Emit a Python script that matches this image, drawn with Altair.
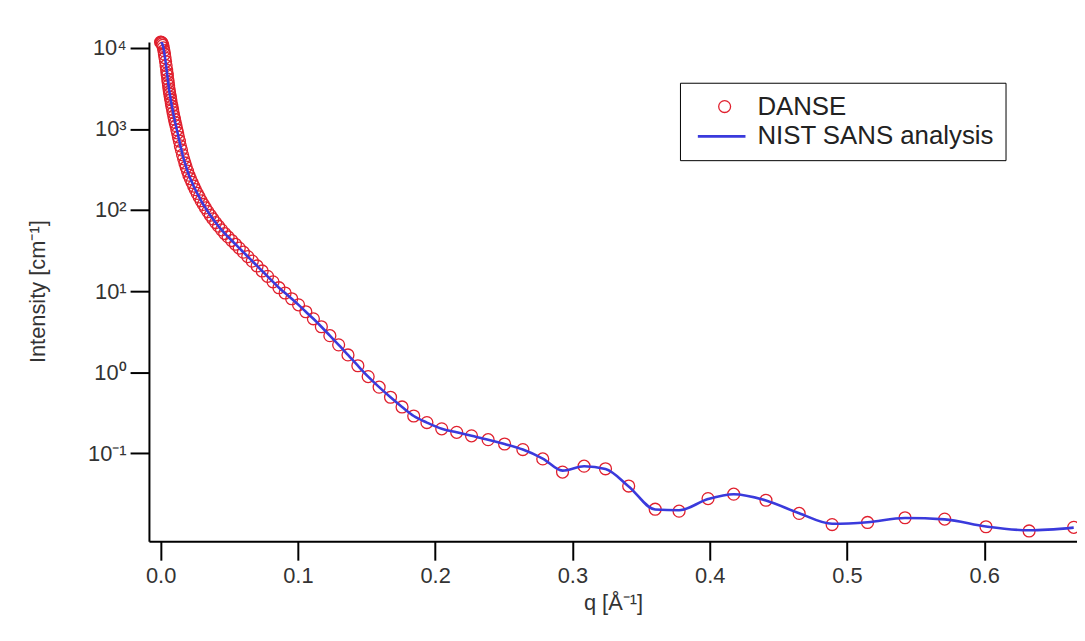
import altair as alt
import pandas as pd

# ---- data ----
q_danse = [
    0.0000, 0.0004, 0.0008, 0.0012, 0.0016, 0.0020, 0.0024, 0.0028, 0.0032, 0.0036, 0.0040, 0.0044,
    0.0047, 0.0049, 0.0052, 0.0055, 0.0058, 0.0061, 0.0064, 0.0067, 0.0071, 0.0074,
    0.0078, 0.0082, 0.0087, 0.0091, 0.0096, 0.0101, 0.0106, 0.0112, 0.0118, 0.0124,
    0.0130, 0.0137, 0.0144, 0.0152, 0.0160, 0.0168, 0.0177, 0.0186, 0.0196, 0.0206,
    0.0217, 0.0229, 0.0241, 0.0253, 0.0267, 0.0281, 0.0295, 0.0311, 0.0327, 0.0344,
    0.0362, 0.0381, 0.0401, 0.0422, 0.0444, 0.0467, 0.0492, 0.0518, 0.0545, 0.0573,
    0.0603, 0.0635, 0.0668, 0.0703, 0.0740, 0.0779, 0.0819, 0.0862, 0.0907, 0.0955,
    0.1005, 0.1058, 0.1113, 0.1171, 0.1233, 0.1297, 0.1365, 0.1437, 0.1512, 0.1592,
    0.1675, 0.1759, 0.1844, 0.1940, 0.2048, 0.2157, 0.2265, 0.2386, 0.2506, 0.2639,
    0.2784, 0.2928, 0.3085, 0.3241, 0.3410, 0.3603, 0.3777, 0.3988, 0.4175, 0.4410,
    0.4652, 0.4892, 0.5150, 0.5423, 0.5712, 0.6013, 0.6327, 0.6652,
]
i_danse = [
    11749, 11695, 11535, 11220, 10715, 10000, 9226, 8356, 7534, 6761, 6026, 5309,
    4842, 4571, 4121, 3758, 3428, 3126, 2884, 2692, 2455, 2291,
    2089, 1905, 1738, 1585, 1445, 1318, 1202, 1096, 977, 891,
    794, 708, 617, 550, 479, 427, 380, 339, 302, 269,
    243, 219, 197, 178, 160, 145, 130, 117, 106, 95.5,
    86.1, 77.6, 70.0, 63.1, 56.9, 51.3, 46.5, 42.0, 37.8, 33.9,
    30.2, 26.6, 23.4, 20.4, 17.7, 15.2, 13.0, 11.0, 9.46, 8.04,
    6.76, 5.56, 4.55, 3.63, 2.82, 2.17, 1.63, 1.20, 0.881, 0.653,
    0.490, 0.372, 0.288, 0.239, 0.200, 0.181, 0.164, 0.147, 0.130, 0.111,
    0.0851, 0.0585, 0.0693, 0.0643, 0.0394, 0.0204, 0.0193, 0.0276, 0.0313, 0.0263,
    0.0181, 0.0132, 0.0140, 0.0160, 0.0154, 0.0124, 0.0110, 0.0122,
]
q_nist = list(q_danse)
i_nist = [
    11749, 11695, 11535, 11220, 10715, 10000, 9226, 8356, 7534, 6761, 6026, 5309,
    4842, 4571, 4121, 3758, 3428, 3126, 2884, 2692, 2455, 2291,
    2089, 1905, 1738, 1585, 1445, 1318, 1202, 1096, 977, 891,
    794, 708, 617, 550, 479, 427, 380, 339, 302, 269,
    243, 219, 197, 178, 160, 145, 130, 117, 106, 95.5,
    86.1, 77.6, 70.0, 63.1, 56.9, 51.3, 46.5, 42.0, 37.8, 33.9,
    30.2, 26.6, 23.4, 20.4, 17.7, 15.2, 13.0, 11.0, 9.46, 8.04,
    6.76, 5.56, 4.55, 3.63, 2.82, 2.17, 1.63, 1.20, 0.881, 0.653,
    0.490, 0.372, 0.288, 0.239, 0.200, 0.181, 0.164, 0.147, 0.130, 0.111,
    0.0860, 0.0610, 0.0690, 0.0640, 0.0390, 0.0202, 0.0198, 0.0272, 0.0312, 0.0262,
    0.0182, 0.0135, 0.0141, 0.0159, 0.0153, 0.0125, 0.0112, 0.0121,
]

series_names = ["DANSE", "NIST SANS analysis"]
series_colors = ["#e0202e", "#3a3adc"]
series_shapes = ["circle", "M-4.5,0H3.5"]
series_widths = [1.3, 2.8]
x_ticks = [0.0, 0.1, 0.2, 0.3, 0.4, 0.5, 0.6]
y_ticks = [0.1, 1, 10, 100, 1000, 10000]
x_domain = [-0.0085, 0.6676]
y_domain = [0.0082, 11780]

FONT = "Liberation Sans"

danse = pd.DataFrame({"q": q_danse, "I": i_danse, "series": "DANSE"})
nist = pd.DataFrame({"q": q_nist, "I": i_nist, "series": "NIST SANS analysis"})

sup_expr = (
    "'10' + replace(replace(replace(replace(replace(replace("
    "'' + round(log(datum.value) / LN10), '-', '⁻'), '0', '⁰'), '1', '¹'), "
    "'2', '²'), '3', '³'), '4', '⁴')"
)

x_enc = alt.X(
    "q:Q",
    scale=alt.Scale(domain=x_domain, nice=False, zero=False),
    axis=alt.Axis(values=x_ticks, format=".1f", title="q [Å⁻¹]", labelPadding=6,
                  titleBaseline="middle", titleY=62),
)
y_enc = alt.Y(
    "I:Q",
    scale=alt.Scale(type="log", domain=y_domain, nice=False),
    axis=alt.Axis(values=y_ticks, labelExpr=sup_expr, title="Intensity [cm⁻¹]",
                  labelPadding=4, titleBaseline="middle", titleX=-112, titleY=251),
)

legend = alt.Legend(
    title=None, orient="none", legendX=535, legendY=41,
    labelFontSize=26, labelFont=FONT, labelColor="#222", labelOffset=20,
    symbolOffset=21, padding=11, rowPadding=4, strokeColor="black",
    labelLimit=400, symbolSize=144,
)

points = alt.Chart(danse).mark_point(filled=False, clip=False, opacity=1, size=144).encode(
    x=x_enc,
    y=y_enc,
    color=alt.Color("series:N", scale=alt.Scale(domain=series_names, range=series_colors), legend=legend),
    shape=alt.Shape("series:N", scale=alt.Scale(domain=series_names, range=series_shapes), legend=legend),
    strokeWidth=alt.StrokeWidth("series:N", scale=alt.Scale(domain=series_names, range=series_widths), legend=legend),
)

line = alt.Chart(nist).mark_line(interpolate="monotone", strokeWidth=2.6, clip=True).encode(
    x=alt.X("q:Q"),
    y=alt.Y("I:Q"),
    color=alt.value(series_colors[1]),
)

chart = (
    alt.layer(points, line)
    .properties(
        width=935,
        height=503,
        padding={"left": 142, "top": 32, "right": 0, "bottom": 80},
        autosize=alt.AutoSizeParams(type="none"),
    )
    .configure_axis(
        domainColor="black", domainWidth=2, tickColor="black", tickWidth=2, tickSize=19,
        labelFont=FONT, labelFontSize=22, labelColor="#333",
        titleFont=FONT, titleFontSize=22, titleColor="#333", titleFontWeight="normal",
        grid=False,
    )
    .configure_view(stroke=None)
)

chart.save("out.html", embed_options={"renderer": "svg", "actions": False})
